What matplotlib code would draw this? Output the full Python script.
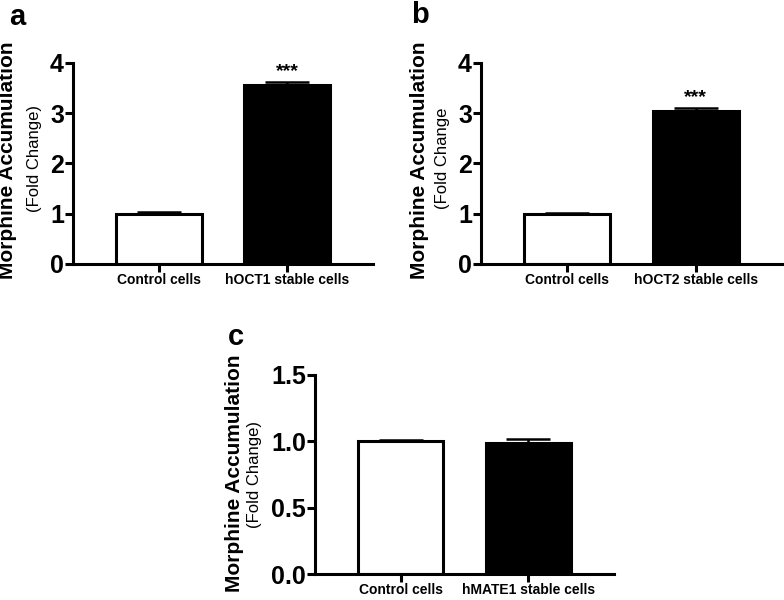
import matplotlib
matplotlib.use("Agg")
import matplotlib.pyplot as plt

plt.rcParams['font.family'] = ['Liberation Sans', 'DejaVu Sans']

# Data
categories_a = ["Control cells", "hOCT1 stable cells"]
values_a = [1.0, 3.56]
errors_a = [0.04, 0.07]

categories_b = ["Control cells", "hOCT2 stable cells"]
values_b = [1.0, 3.04]
errors_b = [0.01, 0.06]

categories_c = ["Control cells", "hMATE1 stable cells"]
values_c = [1.0, 0.985]
errors_c = [0.01, 0.035]

yticks_ab = [0, 1, 2, 3, 4]
ytick_labels_ab = ["0", "1", "2", "3", "4"]
yticks_c = [0.0, 0.5, 1.0, 1.5]
ytick_labels_c = ["0.0", "0.5", "1.0", "1.5"]

W, H = 784, 600
fig = plt.figure(figsize=(W / 100, H / 100), dpi=100)

LW = 2.2


def panel(rect, cats, vals, errs, yticks, ylabels, ylim, stars=None, star_y=None):
    ax = fig.add_axes(rect)
    x = list(range(len(cats)))
    ax.bar(x, vals, width=0.67, color=["white", "black"], edgecolor="black",
           linewidth=LW, zorder=2)
    for xi, v, e in zip(x, vals, errs):
        ax.errorbar([xi], [v], yerr=[[0], [e]], fmt="none", ecolor="black",
                    elinewidth=1.8, capsize=16, capthick=1.8, zorder=1)
    ax.set_xlim(-0.67, 1.67)
    ax.set_ylim(*ylim)
    ax.set_yticks(yticks)
    ax.set_yticklabels(ylabels, fontsize=18, fontweight="bold")
    ax.set_xticks(x)
    ax.set_xticklabels(cats, fontsize=10, fontweight="bold")
    for s in ["top", "right"]:
        ax.spines[s].set_visible(False)
    for s in ["left", "bottom"]:
        ax.spines[s].set_linewidth(LW)
    ax.tick_params(axis="both", direction="out", length=5.5, width=LW, pad=1)
    if stars:
        ax.text(1, star_y, stars, ha="center", va="center", fontsize=14,
                fontweight="bold")
    return ax


def px(xp, yp):
    return xp / W, 1 - yp / H


panel([73 / W, (H - 264) / H, 300 / W, 201 / H], categories_a, values_a, errors_a,
      yticks_ab, ytick_labels_ab, (0, 4), "***", 3.82)
panel([481 / W, (H - 264) / H, 301 / W, 201 / H], categories_b, values_b, errors_b,
      yticks_ab, ytick_labels_ab, (0, 4), "***", 3.32)
panel([315 / W, (H - 574) / H, 299 / W, 199 / H], categories_c, values_c, errors_c,
      yticks_c, ytick_labels_c, (0, 1.5))

# Y labels
for (mx, my), (fx, fy), ftxt in [((8, 160), (35, 158), "(Fold Change)"),
                                  ((419, 160), (443, 158), "(Fold Change"),
                                  ((235, 473), (255, 475), "(Fold Change)")]:
    fig.text(*px(mx, my), "Morphine Accumulation", rotation=90, ha="center",
             va="center", fontsize=15, fontweight="bold")
    fig.text(*px(fx, fy), ftxt, rotation=90, ha="center", va="center",
             fontsize=12)

# Panel letters
for (lx, ly), lt in [((17, 17), "a"), ((420, 15), "b"), ((236, 337), "c")]:
    fig.text(*px(lx, ly), lt, ha="center", va="center", fontsize=21,
             fontweight="bold")

fig.savefig("out.png", dpi=100)
